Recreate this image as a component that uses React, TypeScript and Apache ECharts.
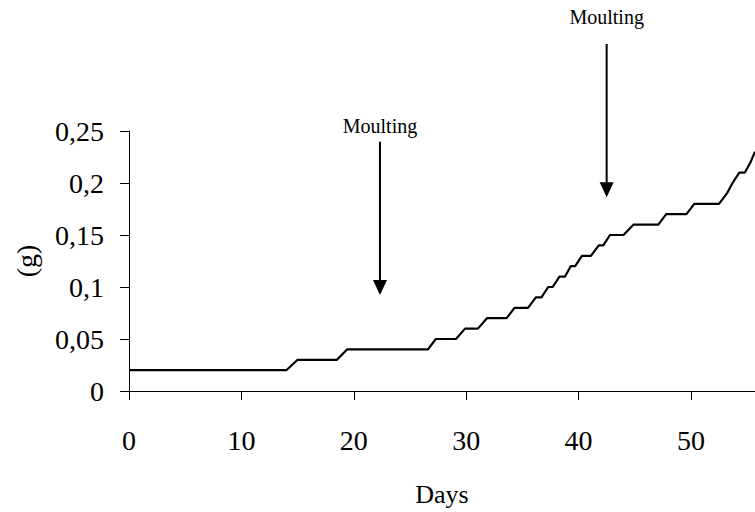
import React, { useEffect, useRef } from "react";
import * as echarts from "echarts";

// Measured days (x) and weight in grams (y)
const days = [
  0, 14, 15, 18.5, 19.4, 26.6, 27.3, 29.1, 29.9, 31.05, 31.85, 33.6, 34.3, 35.5,
  36.2, 36.7, 37.3, 37.7, 38.3, 38.8, 39.3, 39.7, 40.3, 41.1, 41.8, 42.2, 42.8,
  44.0, 44.9, 47.1, 47.8, 49.6, 50.3, 52.5, 53.2, 53.7, 54.3, 54.8, 55.3, 55.7,
];
const weights = [
  0.02, 0.02, 0.03, 0.03, 0.04, 0.04, 0.05, 0.05, 0.06, 0.06, 0.07, 0.07, 0.08,
  0.08, 0.09, 0.09, 0.1, 0.1, 0.11, 0.11, 0.12, 0.12, 0.13, 0.13, 0.14, 0.14,
  0.15, 0.15, 0.16, 0.16, 0.17, 0.17, 0.18, 0.18, 0.19, 0.2, 0.21, 0.21, 0.22,
  0.23,
];

// Moulting annotations (day, arrow top, arrow tip, label baseline) in data units
const moultingLabels = ["Moulting", "Moulting"];
const moultingDays = [22.33, 42.5];
const arrowTops = [0.2397, 0.3337];
const arrowTips = [0.0923, 0.1863];
const labelBaselines = [0.2478, 0.3529];

const X_MIN = 0;
const X_MAX = 55.7;
const X_INTERVAL = 10;
const Y_MIN = 0;
const Y_MAX = 0.25;
const Y_INTERVAL = 0.05;

const FONT = "'Liberation Serif', 'Times New Roman', serif";

export default function App() {
  const ref = useRef<HTMLDivElement>(null);

  useEffect(() => {
    if (!ref.current) return;
    const chart = echarts.init(ref.current, null, { renderer: "svg" });
    chart.setOption({
      animation: false,
      backgroundColor: "#ffffff",
      grid: { left: 129, right: 0, top: 131, bottom: 121, containLabel: false },
      xAxis: {
        type: "value",
        min: X_MIN,
        max: X_MAX,
        interval: X_INTERVAL,
        name: "Days",
        nameLocation: "middle",
        nameGap: 90,
        nameTextStyle: { fontFamily: FONT, fontSize: 26, color: "#000" },
        axisLine: { show: true, lineStyle: { color: "#000", width: 1 } },
        axisTick: { show: true, inside: false, length: 9, lineStyle: { color: "#000", width: 1 } },
        axisLabel: {
          fontFamily: FONT,
          fontSize: 28,
          color: "#000",
          margin: 35,
          showMaxLabel: false,
          formatter: (v: number) => String(parseFloat(v.toFixed(2))).replace(".", ","),
        },
        splitLine: { show: false },
      },
      yAxis: {
        type: "value",
        min: Y_MIN,
        max: Y_MAX,
        interval: Y_INTERVAL,
        name: "(g)",
        nameLocation: "middle",
        nameGap: 89,
        nameRotate: 90,
        nameTextStyle: { fontFamily: FONT, fontSize: 28, color: "#000" },
        axisLine: { show: true, lineStyle: { color: "#000", width: 1 } },
        axisTick: { show: true, inside: false, length: 9, lineStyle: { color: "#000", width: 1 } },
        axisLabel: {
          fontFamily: FONT,
          fontSize: 28,
          color: "#000",
          margin: 25,
          formatter: (v: number) => String(parseFloat(v.toFixed(2))).replace(".", ","),
        },
        splitLine: { show: false },
      },
      series: [
        {
          type: "line",
          data: days.map((d, i) => [d, weights[i]]),
          symbol: "none",
          showSymbol: false,
          lineStyle: { color: "#000", width: 2.2 },
          clip: true,
        },
      ],
    });

    const graphics: any[] = [];
    moultingDays.forEach((d, i) => {
      const top = chart.convertToPixel({ gridIndex: 0 }, [d, arrowTops[i]]) as number[];
      const tip = chart.convertToPixel({ gridIndex: 0 }, [d, arrowTips[i]]) as number[];
      const base = chart.convertToPixel({ gridIndex: 0 }, [d, labelBaselines[i]]) as number[];
      const headH = 15;
      const headW = 14;
      graphics.push({
        type: "text",
        x: base[0],
        y: base[1] + 3,
        style: {
          text: moultingLabels[i],
          fontFamily: FONT,
          fontSize: 20,
          lineHeight: 20,
          fill: "#000",
          textAlign: "center",
          textVerticalAlign: "bottom",
        },
      });
      graphics.push({
        type: "line",
        shape: { x1: top[0], y1: top[1], x2: tip[0], y2: tip[1] - headH + 1 },
        style: { stroke: "#000", lineWidth: 2 },
      });
      graphics.push({
        type: "polygon",
        shape: {
          points: [
            [tip[0] - headW / 2, tip[1] - headH],
            [tip[0] + headW / 2, tip[1] - headH],
            [tip[0], tip[1]],
          ],
        },
        style: { fill: "#000" },
      });
    });
    chart.setOption({ graphic: graphics });

    return () => chart.dispose();
  }, []);

  return (
    <div
      ref={ref}
      style={{ position: "fixed", left: 0, top: 0, width: 755, height: 512 }}
    />
  );
}
